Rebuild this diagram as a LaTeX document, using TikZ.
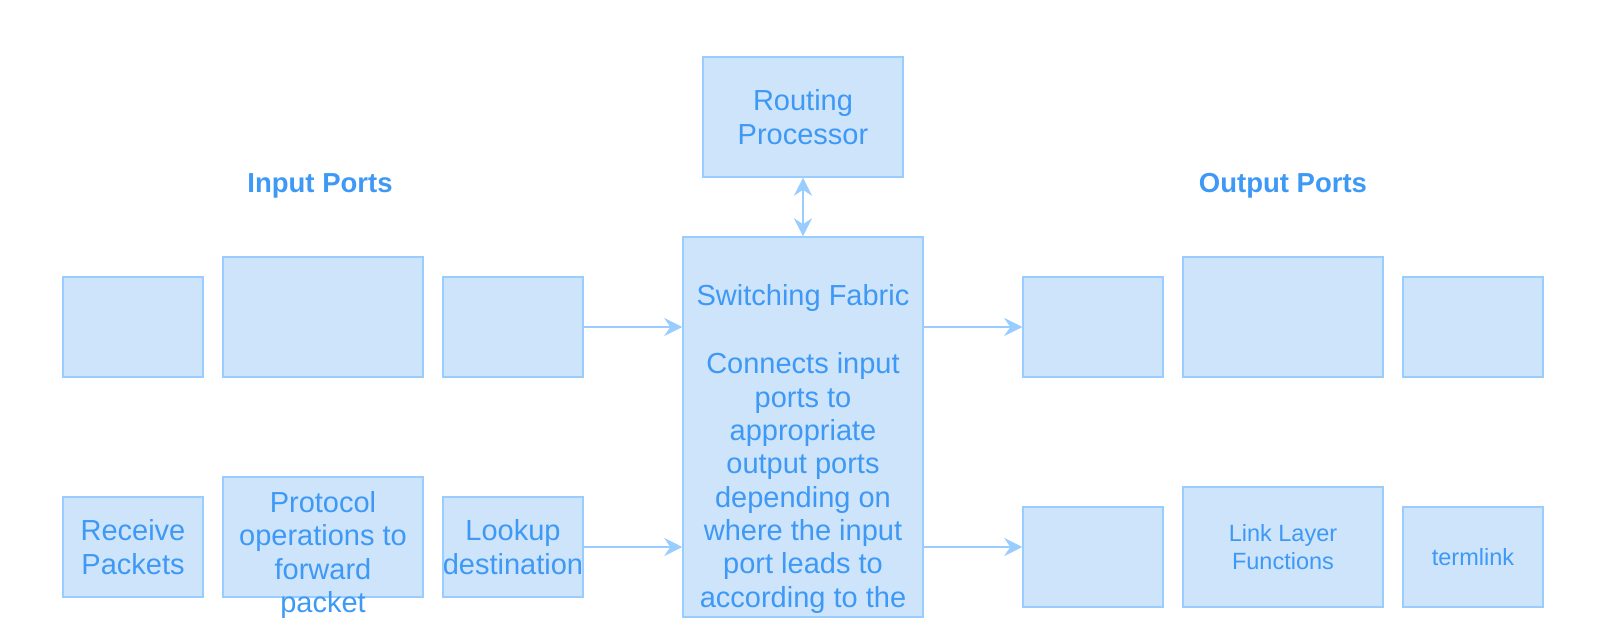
\documentclass[tikz,border=0pt]{standalone}
\usepackage{fontspec}
\setmainfont{Liberation Sans}
\usetikzlibrary{arrows.meta}
\definecolor{portfill}{HTML}{CEE4FA}
\definecolor{portline}{HTML}{99CCFF}
\definecolor{porttext}{HTML}{3D99F5}
\begin{document}
\begin{tikzpicture}[x=1pt, y=-1pt,
		port/.style = {draw=portline, fill=portfill, line width=1.5pt, text=porttext, align=center, inner sep=0pt, font=\fontsize{29}{33.3}\selectfont},
		small/.style = {port, minimum width=140pt, minimum height=100pt},
		wide/.style = {port, minimum width=200pt, minimum height=120pt},
		words/.style = {text=porttext, align=center, inner sep=0pt, font=\fontsize{29}{33.3}\selectfont},
		title/.style = {text=porttext, inner sep=0pt, font=\fontsize{27.5}{33}\selectfont\bfseries},
		link/.style = {draw=portline, line width=1.5pt, -{Stealth[length=18pt, width=18pt, inset=6pt]}},
		both/.style = {link, {Stealth[length=18pt, width=18pt, inset=6pt]}-{Stealth[length=18pt, width=18pt, inset=6pt]}}]
	\useasboundingbox (0,0) rectangle (1612,640);
	\node[title] (inTitle) at (320,186) {Input Ports};
	\node[title] (outTitle) at (1283,186) {Output Ports};
	\node[port, minimum width=200pt, minimum height=120pt] (router) at (803,117) {Routing\\Processor};
	\node[port, minimum width=240pt, minimum height=380pt] (fabric) at (803,427) {};
	\node[words, anchor=north] (fabricText) at (803,284) {Switching Fabric\\[35.4pt]Connects input\\ports to\\appropriate\\output ports\\depending on\\where the input\\port leads to\\according to the};
	% input ports
	\node[small] (inA) at (133,327) {};
	\node[wide] (inB) at (323,317) {};
	\node[small] (inC) at (513,327) {};
	\node[small] (recv) at (133,547) {Receive\\Packets};
	\node[wide] (proto) at (323,537) {};
	\node[words] (protoText) at ([yshift=-18pt]proto.center) {Protocol\\operations to\\forward\\packet};
	\node[small] (lookup) at (513,547) {Lookup\\destination};
	% output ports
	\node[small] (outA) at (1093,327) {};
	\node[wide] (outB) at (1283,317) {};
	\node[small] (outC) at (1473,327) {};
	\node[small] (outD) at (1093,557) {};
	\node[wide, font=\fontsize{23.5}{28.5}\selectfont] (linkfn) at (1283,547) {Link Layer\\Functions};
	\node[small, font=\fontsize{23.5}{28.5}\selectfont] (term) at (1473,557) {termlink};
	\draw[both] (router) -- (fabric);
	\draw[link] (inC) -- (fabric.west |- inC);
	\draw[link] (lookup) -- (fabric.west |- lookup);
	\draw[link] (fabric.east |- outA) -- (outA);
	\draw[link] (fabric.east |- lookup) -- (outD.west |- lookup);
\end{tikzpicture}
\end{document}
